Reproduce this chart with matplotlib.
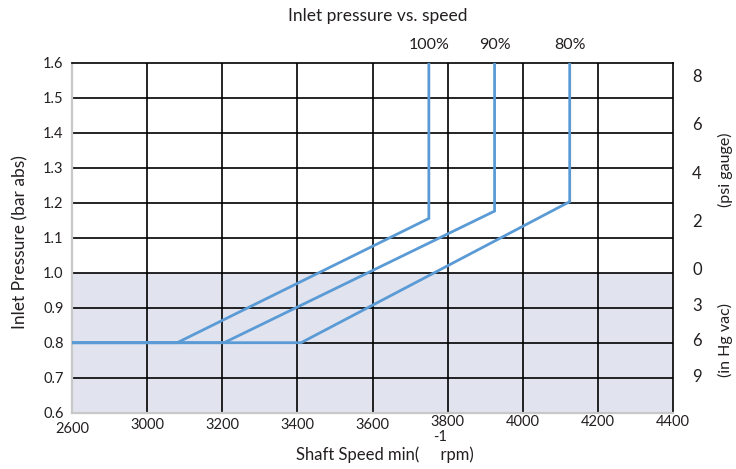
import numpy as np
import matplotlib
matplotlib.use("Agg")
import matplotlib.pyplot as plt
from matplotlib.transforms import blended_transform_factory, offset_copy

# ---------------- data ----------------
title = "Inlet pressure vs. speed"
series_names = ["100%", "90%", "80%"]
# each curve: flat at 0.8 bar from 2600, rising line, then vertical to 1.6
speed_100 = [2600, 3080, 3750, 3750]
press_100 = [0.8, 0.8, 1.155, 1.6]
speed_90 = [2600, 3205, 3925, 3925]
press_90 = [0.8, 0.8, 1.176, 1.6]
speed_80 = [2600, 3410, 4125, 4125]
press_80 = [0.8, 0.8, 1.203, 1.6]

x_ticks = [2600, 3000, 3200, 3400, 3600, 3800, 4000, 4200, 4400]
y_ticks = [0.6, 0.7, 0.8, 0.9, 1.0, 1.1, 1.2, 1.3, 1.4, 1.5, 1.6]
psi_labels = [8, 6, 4, 2, 0]
inhg_labels = [3, 6, 9]

# ---------------- style ----------------
FONT = ["Lato", "DejaVu Sans"]
plt.rcParams["font.family"] = FONT
LINE = "#5b9bd5"
SHADE = "#e1e3ef"
TXT = "#231f20"

W, H = 736, 469
fig = plt.figure(figsize=(W / 100, H / 100), dpi=100)
L, R, T, B = 72, 673, 62.7, 412.7
ax = fig.add_axes([L / W, 1 - B / H, (R - L) / W, (B - T) / H])

# broken-ish axis: 2600..3000 takes the same width as a 200 rpm step
def fwd(v):
    v = np.asarray(v, dtype=float)
    return np.where(v < 3000, (v - 2600) / 400.0, (v - 3000) / 200.0 + 1)

def inv(p):
    p = np.asarray(p, dtype=float)
    return np.where(p < 1, 2600 + p * 400.0, 3000 + (p - 1) * 200.0)

ax.set_xscale("function", functions=(fwd, inv))
ax.set_xlim(2600, 4400)
ax.set_ylim(0.6, 1.6)

ax.axhspan(0.6, 1.0, color=SHADE, zorder=0, lw=0)

for xv in x_ticks[1:-1]:
    ax.axvline(xv, color="black", lw=1.2, zorder=1)
for yv in y_ticks[1:-1]:
    ax.axhline(yv, color="black", lw=1.2, zorder=1)

for sx, sy in [(speed_100, press_100), (speed_90, press_90), (speed_80, press_80)]:
    ax.plot(sx, sy, color=LINE, lw=2.0, zorder=3, solid_joinstyle="miter")

for sp in ["top", "right"]:
    ax.spines[sp].set_color("black")
    ax.spines[sp].set_linewidth(1.2)
for sp in ["left", "bottom"]:
    ax.spines[sp].set_color("#c8c8c8")
    ax.spines[sp].set_linewidth(1.6)

ax.set_xticks(x_ticks)
ax.set_xticklabels([])
ax.set_yticks(y_ticks)
ax.set_yticklabels([f"{v:.1f}" for v in y_ticks], fontsize=10.5, color=TXT)
ax.tick_params(axis="both", length=0, pad=6)

# x tick labels (slightly staggered as in the reference)
xoff = [-12, -9, -9, -8.5, -8.5, -7, -7, -7, -6.5]
tr = blended_transform_factory(ax.transData, ax.transAxes)
for xv, dy in zip(x_ticks, xoff):
    ax.text(xv, 0, str(xv), transform=offset_copy(tr, fig=fig, y=dy, units="points"),
            ha="center", va="center", fontsize=10.5, color=TXT)

# right-hand secondary labels
rtr = blended_transform_factory(ax.transAxes, ax.transData)
for p in psi_labels:
    yv = 1.01325 + p * 0.0689476
    ax.text(1.04, yv, str(p), transform=offset_copy(rtr, fig=fig, y=-1.5, units="points"),
            ha="center", va="center", fontsize=12, color=TXT)
for h in inhg_labels:
    yv = 1.01325 - h * 0.0338639
    ax.text(1.04, yv, str(h), transform=offset_copy(rtr, fig=fig, y=-1.5, units="points"),
            ha="center", va="center", fontsize=12, color=TXT)

fig.text(725 / W, 1 - 170 / H, "(psi gauge)", rotation=90, ha="center", va="center",
         fontsize=11.5, color=TXT)
fig.text(725 / W, 1 - 340 / H, "(in Hg vac)", rotation=90, ha="center", va="center",
         fontsize=11.5, color=TXT)

# y label
fig.text(20 / W, 1 - 242 / H, "Inlet Pressure (bar abs)", rotation=90, ha="center",
         va="center", fontsize=12.5, color=TXT)

# title and series labels
fig.text(378 / W, 1 - 16 / H, title, ha="center", va="center", fontsize=12.5, color=TXT)
for name, xv in zip(series_names, [speed_100[-1], speed_90[-1], speed_80[-1]]):
    ax.text(xv, 1.0, name, transform=offset_copy(tr, fig=fig, y=13, units="points"),
            ha="center", va="center", fontsize=11.5, color=TXT)

# x label with superscript -1
fig.text(385 / W, 1 - 455 / H, "Shaft Speed min(     rpm)", ha="center", va="center",
         fontsize=12, color=TXT)
fig.text(440 / W, 1 - 437 / H, "-1", ha="center", va="center", fontsize=10.5, color=TXT)

fig.savefig("out.png", dpi=100)
